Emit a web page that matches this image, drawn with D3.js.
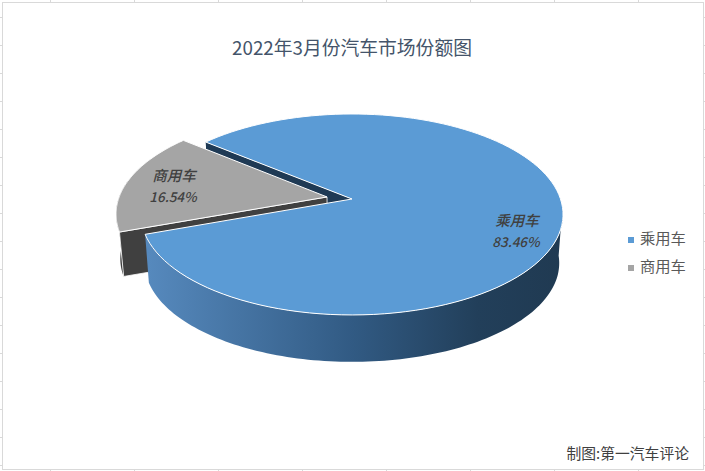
<!DOCTYPE html>
<html>
<head>
<meta charset="utf-8">
<script src="https://cdn.jsdelivr.net/npm/d3@7/dist/d3.min.js"></script>
<style>
html, body { margin: 0; padding: 0; background: #fff; }
svg { display: block; }
text { font-family: "Noto Sans CJK SC", "Noto Sans", sans-serif; }
</style>
</head>
<body>
<div id="chart"></div>
<script>
const categories = ['乘用车', '商用车'];
const values = [83.46, 16.54];
const value_labels = ['83.46%', '16.54%'];
const title = '2022年3月份汽车市场份额图';
const credit = '制图:第一汽车评论';

const w = 705;
const h = 471;
const svg = d3.select('#chart').append('svg').attr('width', w).attr('height', h);

const colors = d3.scaleOrdinal().domain(categories).range(['#5B9BD5', '#A5A5A5']);

//sheet frame and the cell marks round it
const frame = '#D9D9D9';
svg.append('rect').attr('x', 2.5).attr('y', 2.5).attr('width', 701).attr('height', 467)
       .attr('fill', '#fff').attr('stroke', frame);
const row_marks = d3.range(17, 470, 28);
const col_marks = d3.range(50, 700, 84);
svg.selectAll('.row-left').data(row_marks).enter().append('line').attr('class', 'row-left')
       .attr('x1', 0).attr('x2', 2).attr('y1', d => d + 0.5).attr('y2', d => d + 0.5).attr('stroke', frame);
svg.selectAll('.row-right').data(row_marks).enter().append('line').attr('class', 'row-right')
       .attr('x1', 704).attr('x2', 705).attr('y1', d => d + 0.5).attr('y2', d => d + 0.5).attr('stroke', frame);
svg.selectAll('.col-top').data(col_marks).enter().append('line').attr('class', 'col-top')
       .attr('y1', 0).attr('y2', 2).attr('x1', d => d + 0.5).attr('x2', d => d + 0.5).attr('stroke', frame);
svg.selectAll('.col-bottom').data(col_marks).enter().append('line').attr('class', 'col-bottom')
       .attr('y1', 470).attr('y2', 471).attr('x1', d => d + 0.5).attr('x2', d => d + 0.5).attr('stroke', frame);

//tilted disc with a little perspective, u is right and v is towards the viewer
const cx = 352;
const cy = 199;
const radius = 208.5;
const flat = 98.1;
const persp = 0.154;
const blue_depth = 49;
const grey_depth = 45;
const floor_scale = 0.982;

//drop is how far below the top face the point sits, 0 means on the top face
function project(u, v, drop) {
       const s = 1 / (1 - persp * v);
       const k = drop ? floor_scale : 1;
       return [cx + radius * k * u * s, cy + drop + flat * k * v * s];
}

function edge(a, o, drop) {
       return project(o[0] + Math.sin(a), o[1] - Math.cos(a), drop);
}

function arcPoints(a0, a1, o, drop) {
       const steps = 120;
       return d3.range(steps + 1).map(i => edge(a0 + (a1 - a0) * i / steps, o, drop));
}

const line = d3.line();
const rad = d => d * Math.PI / 180;
const start = rad(309.6);
const pie = d3.pie().sort(null).startAngle(start).endAngle(start + 2 * Math.PI);
const slices = pie(values);
const blue = slices[0];
const grey = slices[1];

//the grey slice is pulled out along its middle direction
const pull = 0.122;
const mid = (grey.startAngle + grey.endAngle) / 2;
const off = [pull * Math.sin(mid), -pull * Math.cos(mid)];
const none = [0, 0];

const defs = svg.append('defs');
const grad = defs.append('linearGradient').attr('id', 'blueSide')
       .attr('gradientUnits', 'userSpaceOnUse')
       .attr('x1', 148).attr('x2', 560).attr('y1', 0).attr('y2', 0);
grad.append('stop').attr('offset', 0).attr('stop-color', '#5689BD');
grad.append('stop').attr('offset', 0.5).attr('stop-color', '#315A83');
grad.append('stop').attr('offset', 0.8).attr('stop-color', '#223F5A');
grad.append('stop').attr('offset', 1).attr('stop-color', '#203A52');

//inner wall of the blue slice
const blue_c = project(0, 0, 0);
svg.append('path')
       .attr('d', line([edge(blue.startAngle, none, 0), blue_c, project(0, 0, blue_depth), edge(blue.startAngle, none, blue_depth)]) + 'Z')
       .attr('fill', '#1F3A55');

//grey slice walls, then its top
const grey_c = project(off[0], off[1], 0);
const grey_cl = project(off[0], off[1], grey_depth);
svg.append('path')
       .attr('d', line(arcPoints(grey.startAngle, mid, off, 0).concat(arcPoints(mid, grey.startAngle, off, grey_depth))) + 'Z')
       .attr('fill', '#404040');
svg.append('path')
       .attr('d', line([grey_c, edge(grey.startAngle, off, 0), edge(grey.startAngle, off, grey_depth), grey_cl]) + 'Z')
       .attr('fill', '#404040')
       .attr('stroke', '#fff').attr('stroke-width', 0.8);
svg.append('path')
       .attr('d', line([grey_c].concat(arcPoints(grey.startAngle, grey.endAngle, off, 0))) + 'Z')
       .attr('fill', colors(categories[1]))
       .attr('stroke', '#fff').attr('stroke-width', 1);

//outer side of the blue slice, then its top
const side_from = blue.startAngle + rad(145);
svg.append('path')
       .attr('d', line(arcPoints(side_from, blue.endAngle, none, 0).concat(arcPoints(blue.endAngle, side_from, none, blue_depth))) + 'Z')
       .attr('fill', 'url(#blueSide)');
svg.append('path')
       .attr('d', line([blue_c].concat(arcPoints(blue.startAngle, blue.endAngle, none, 0))) + 'Z')
       .attr('fill', colors(categories[0]))
       .attr('stroke', '#fff').attr('stroke-width', 1);

//title
svg.append('text').text(title)
       .attr('x', 352).attr('y', 55)
       .attr('text-anchor', 'middle')
       .attr('font-size', 18.8)
       .attr('fill', '#44546A');

//labels on the slices
const label_pos = [[517, 226, 247], [174, 181, 202]];
categories.forEach((c, i) => {
       const g = svg.append('g')
              .attr('font-style', 'italic')
              .attr('font-weight', 500)
              .attr('font-size', 14.5)
              .attr('fill', '#404040')
              .attr('text-anchor', 'middle');
       g.append('text').text(c).attr('x', label_pos[i][0]).attr('y', label_pos[i][1]);
       g.append('text').text(value_labels[i]).attr('x', label_pos[i][0] - 1).attr('y', label_pos[i][2]).attr('font-size', 13.5);
});

//legend
const legendY = d3.scalePoint().domain(categories).range([240, 268]);
svg.selectAll('.key').data(categories).enter().append('rect').attr('class', 'key')
       .attr('x', 628).attr('y', d => legendY(d) - 3)
       .attr('width', 6).attr('height', 6)
       .attr('fill', d => colors(d));
svg.selectAll('.key-label').data(categories).enter().append('text').attr('class', 'key-label')
       .text(d => d)
       .attr('x', 640).attr('y', d => legendY(d) + 4)
       .attr('font-size', 15.3)
       .attr('fill', '#595959');

//credit
svg.append('text').text(credit)
       .attr('x', 689).attr('y', 459)
       .attr('text-anchor', 'end')
       .attr('font-size', 14.8)
       .attr('fill', '#404040');
</script>
</body>
</html>
